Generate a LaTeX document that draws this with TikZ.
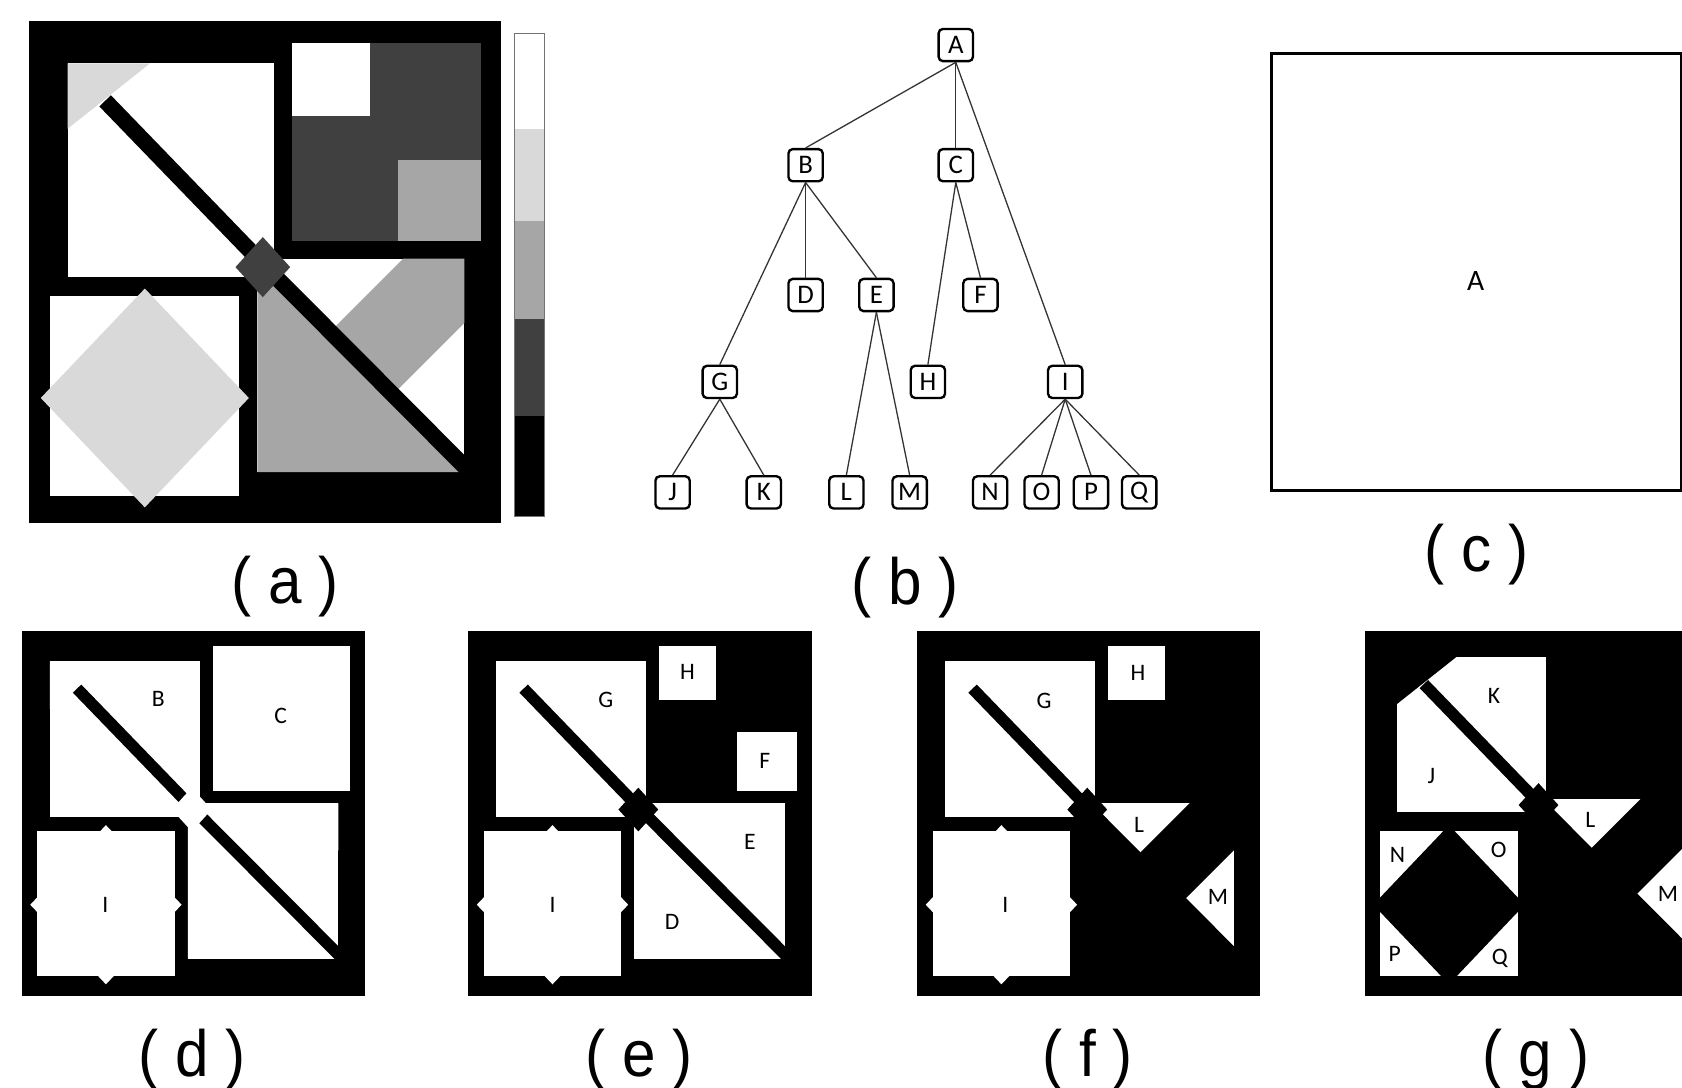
\documentclass[tikz,border=0pt]{standalone}
\usepackage{fontspec}
\setmainfont{Liberation Sans}
\newfontfamily\carlito{Carlito}
\definecolor{dg}{HTML}{404040}
\definecolor{mg}{HTML}{A6A6A6}
\definecolor{lg}{HTML}{D9D9D9}
\tikzset{
  tnode/.style={draw=black, line width=1.1pt, rounded corners=2pt, minimum width=16pt,
    minimum height=15pt, inner sep=0pt, fill=white, font=\carlito\fontsize{12.5}{13}\selectfont},
  tedge/.style={draw=black!80, line width=0.6pt},
  plabel/.style={font=\carlito\fontsize{11}{12}\selectfont, inner sep=0pt, text=black},
  captxt/.style={font=\fontsize{30.5}{32}\selectfont, inner sep=0pt, anchor=base},
}
% one panel, local coordinates (black square 440 x 468)
% \eLG, \eMG: outward bleed (1 when that level is shown black, to avoid seams)
\newcommand\mkmain{%
  \fill[lvW] (36,39) rectangle (228,238);
  \fill[lvLG] ({36-\eLG},{39-\eLG}) -- ({113+1.262*\eLG},{39-\eLG}) -- ({36-\eLG},{100+0.792*\eLG}) -- cycle;
  \fill[lvDG] (245,20) rectangle (421,205);
  \fill[lvH] (245,20) rectangle (318,88);
  \fill[lvMG] (344,129) rectangle (421,205);
  \fill[lvW] (213,221) rectangle (406,420);
  \fill[lvMG] ({213-\eMG},{221-1.031*\eMG}) -- ({213-\eMG},{420+\eMG}) -- ({406+0.97*\eMG},{420+\eMG}) -- cycle;
  \fill[lvMG] ({349+\eMG},{221-\eMG}) -- ({406+\eMG},{221-\eMG}) -- ({406+\eMG},{281-\eMG}) -- (339.2,347.8) -- (280.8,289.2) -- cycle;
  \fill[black] (76.4,68.8) -- (223.4,220.8) -- (212.6,231.2) -- (65.6,79.2) -- cycle;
  \fill[black] (223.3,220.7) -- (437.3,435.7) -- (426.7,446.3) -- (212.7,231.3) -- cycle;
  \fill[lvDG] (218,201) -- (243.5,229) -- (218,257) -- (192.5,229) -- cycle;
}
\newcommand\mkbl{%
  \fill[lvW] (20,256) rectangle (196,442);
  \fill[lvLG] (108,249) -- (205,351) -- (108,453) -- (11,351) -- cycle;
}
\newcommand\setlevels[7]{%
  \colorlet{lvDG}{#1}\colorlet{lvMG}{#2}\colorlet{lvLG}{#3}\colorlet{lvW}{#4}\colorlet{lvH}{#5}%
  \def\eLG{#6}\def\eMG{#7}}
\begin{document}
\begin{tikzpicture}[x=0.5pt,y=-0.5pt]
\useasboundingbox (0,0) rectangle (1568,1014);
\clip (0,0) rectangle (1568,1014);
\fill[white] (0,0) rectangle (1568,1014);

% ---------- (a)
\begin{scope}[shift={(27,20)}]
  \setlevels{dg}{mg}{lg}{white}{white}{0}{0}
  \fill[black] (0,0) rectangle (440,468);
  \mkmain
  \mkbl
\end{scope}
% colour bar
\fill[white] (480,31) rectangle (507.5,120.6);
\fill[lg] (480,120.6) rectangle (507.5,206.4);
\fill[mg] (480,206.4) rectangle (507.5,297.7);
\fill[dg] (480,297.7) rectangle (507.5,388);
\fill[black] (480,388) rectangle (507.5,481.5);
\draw[black!55, line width=0.5pt] (480,31) rectangle (507.5,481.5);

% ---------- (b) tree
\node[tnode] (A) at (891,42) {A};
\node[tnode] (B) at (751,154) {B};
\node[tnode] (C) at (891,154) {C};
\node[tnode] (D) at (751,275) {D};
\node[tnode] (E) at (817,275) {E};
\node[tnode] (F) at (914,275) {F};
\node[tnode] (G) at (671,356) {G};
\node[tnode] (H) at (865,356) {H};
\node[tnode] (I) at (993,356) {I};
\node[tnode] (J) at (627,459) {J};
\node[tnode] (K) at (712,459) {K};
\node[tnode] (L) at (789,459) {L};
\node[tnode] (M) at (848,459) {M};
\node[tnode] (N) at (923,459) {N};
\node[tnode] (O) at (971,459) {O};
\node[tnode] (P) at (1017,459) {P};
\node[tnode] (Q) at (1062,459) {Q};
\foreach \p/\c in {A/B,A/C,A/I,B/G,B/D,B/E,C/H,C/F,E/L,E/M,G/J,G/K,I/N,I/O,I/P,I/Q}
  \draw[tedge] (\p.south) -- (\c.north);

% ---------- (c)
\draw[line width=1.25pt] (1185.5,49.7) rectangle (1567.5,457.4);
\node[font=\carlito\fontsize{13.8}{14}\selectfont, inner sep=0pt] (cA) at (1375.6,261.6) {A};

% ---------- (d)
\begin{scope}[shift={(20.2,588.1)}, scale=0.7273]
  \setlevels{white}{white}{white}{white}{white}{0}{0}
  \fill[black] (0,0) rectangle (440,468);
  \mkmain
  \mkbl
\end{scope}
\node[plabel] (dB) at (147.6,651.7) {B};
\node[plabel] (dC) at (261.6,667) {C};
\node[plabel] (dI) at (98.2,843.4) {I};

% ---------- (e)
\begin{scope}[shift={(436.5,588.1)}, scale=0.7273]
  \setlevels{black}{white}{white}{white}{white}{0}{0}
  \fill[black] (0,0) rectangle (440,468);
  \mkmain
  \mkbl
\end{scope}
\node[plabel] (eH) at (640.9,626.6) {H};
\node[plabel] (eG) at (564.8,652.4) {G};
\node[plabel] (eF) at (713,709.8) {F};
\node[plabel] (eE) at (699,784.4) {E};
\node[plabel] (eI) at (515.1,843.4) {I};
\node[plabel] (eD) at (626.6,859) {D};

% ---------- (f)
\begin{scope}[shift={(855,588.1)}, scale=0.7273]
  \setlevels{black}{black}{white}{white}{white}{0}{1}
  \fill[black] (0,0) rectangle (440,468);
  \mkmain
  \mkbl
\end{scope}
\node[plabel] (fH) at (1060.9,627.5) {H};
\node[plabel] (fG) at (973.3,653) {G};
\node[plabel] (fL) at (1061.9,768.9) {L};
\node[plabel] (fM) at (1135.5,836.3) {M};
\node[plabel] (fI) at (937.3,843.4) {I};

% ---------- (g)
\begin{scope}[shift={(1272.2,588.1)}, scale=0.7273]
  \setlevels{black}{black}{black}{white}{black}{1}{1}
  \fill[black] (0,0) rectangle (440,468);
  \mkbl
  \begin{scope}[shift={(4.8,-5.8)}]
    \mkmain
  \end{scope}
\end{scope}
\node[plabel] (gK) at (1392.8,648.6) {K};
\node[plabel] (gJ) at (1334.4,723.2) {J};
\node[plabel] (gL) at (1482.6,764.2) {L};
\node[plabel] (gN) at (1302.7,796.8) {N};
\node[plabel] (gO) at (1397.1,792.2) {O};
\node[plabel] (gM) at (1555,833.2) {M};
\node[plabel] (gP) at (1300.2,889.4) {P};
\node[plabel] (gQ) at (1398.1,893.2) {Q};

% ---------- captions
\node[captxt] (capa) at (266,562.3) {\scalebox{0.92}[1]{( a )}};
\node[captxt] (capb) at (844,563.8) {\scalebox{0.92}[1]{( b )}};
\node[captxt] (capc) at (1376.5,532.8) {\scalebox{0.92}[1]{( c )}};
\node[captxt] (capd) at (179,1003.4) {\scalebox{0.92}[1]{( d )}};
\node[captxt] (cape) at (596,1003.4) {\scalebox{0.92}[1]{( e )}};
\node[captxt] (capf) at (1014,1003.4) {\scalebox{0.92}[1]{( f )}};
\node[captxt] (capg) at (1431.5,1003.4) {\scalebox{0.92}[1]{( g )}};
\end{tikzpicture}
\end{document}
